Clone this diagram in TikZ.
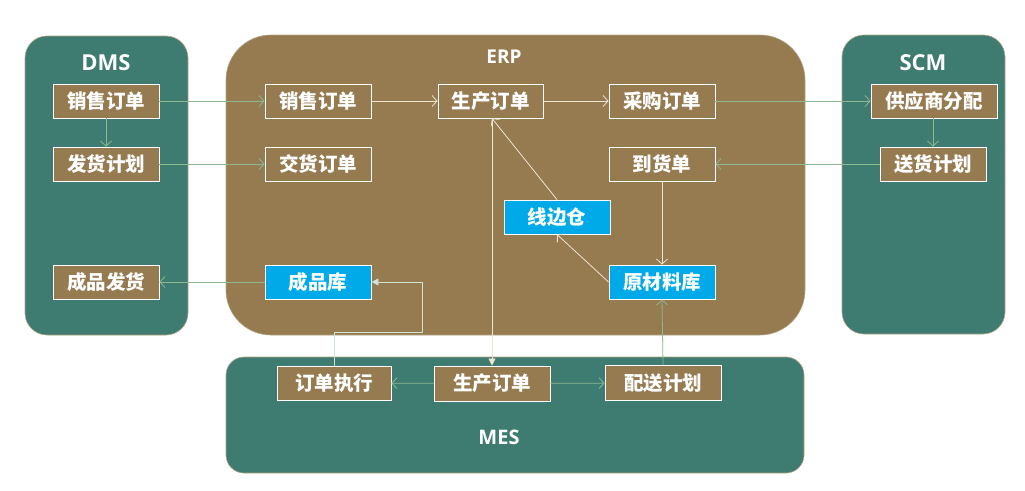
\documentclass[tikz,border=0pt]{standalone}
\usepackage{fontspec}
\usetikzlibrary{arrows.meta,calc}
\newfontfamily\cjk{Noto Sans CJK SC Black}
\newfontfamily\ttlfont{Open Sans}
\definecolor{teal0}{HTML}{3E7B70}
\definecolor{brown0}{HTML}{967A50}
\definecolor{blue0}{HTML}{00AAE8}
\definecolor{gline}{HTML}{8DB892}
\definecolor{cline}{HTML}{EDE4D2}
\definecolor{eline}{HTML}{D2E2D4}
\definecolor{frame0}{HTML}{B3A583}
\begin{document}
\begin{tikzpicture}[x=1pt,y=-1pt,
  container/.style={draw=frame0,line width=0.6pt},
  box/.style={draw=white,line width=0.9pt,fill=brown0,text=white,
    font=\cjk\fontsize{19.5}{21}\selectfont,minimum width=106pt,minimum height=34pt,inner sep=0pt},
  bluebox/.style={box,fill=blue0},
  title/.style={text=white,font=\ttlfont\bfseries\fontsize{22}{24}\selectfont,inner sep=0pt},
  barb/.style={-{Straight Barb[length=5pt,width=11pt,line width=0.8pt]}},
  garrow/.style={draw=gline,line width=0.8pt,barb},
  carrow/.style={draw=cline,line width=0.8pt,barb},
  tarrow/.style={draw=#1,line width=0.8pt,-{Triangle[length=7pt,width=7pt]}},
]
\useasboundingbox (0,0) rectangle (1025,490);
\fill[white] (0,0) rectangle (1025,490);

% containers
\draw[container,fill=teal0,rounded corners=22pt] (25,36) rectangle (188,335);
\draw[container,fill=brown0,rounded corners=45pt] (226,35) rectangle (805,335);
\draw[container,fill=teal0,rounded corners=22pt] (842,35) rectangle (1005,334);
\draw[container,fill=teal0,rounded corners=18pt] (226,357) rectangle (804,473);

% titles
\node[title] (tdms) at (106,63) {DMS};
\node[title,font=\ttlfont\bfseries\fontsize{19}{21}\selectfont] (terp) at (504,57) {ERP};
\node[title] (tscm) at (923,63) {SCM};
\node[title,font=\ttlfont\bfseries\fontsize{20}{22}\selectfont] (tmes) at (499,437) {MES};

% DMS
\node[box] (dsales) at (106,101) {销售订单};
\node[box] (dplan) at (106,164) {发货计划};
\node[box] (dship) at (106,282) {成品发货};

% ERP
\node[box] (esales) at (318,101) {销售订单};
\node[box,minimum width=105pt] (eprod) at (490.5,101) {生产订单};
\node[box] (epurch) at (662,101) {采购订单};
\node[box] (edeliv) at (318,164) {交货订单};
\node[box] (earrive) at (662,164) {到货单};
\node[bluebox] (exbc) at (557,217) {线边仓};
\node[bluebox] (ecpk) at (318,282) {成品库};
\node[bluebox] (eycl) at (662,282) {原材料库};

% SCM
\node[box,minimum width=126pt] (ssupp) at (934,101) {供应商分配};
\node[box] (splan) at (933,164) {送货计划};

% MES
\node[box,minimum width=114pt] (mexec) at (334,383) {订单执行};
\node[box,minimum width=116pt,minimum height=35pt] (mprod) at (492,383.5) {生产订单};
\node[box,minimum width=116pt,minimum height=35pt] (mdist) at (663,383) {配送计划};

% connectors
\draw[garrow] (dsales) -- (esales);
\draw[garrow] (dsales) -- (dplan);
\draw[garrow] (dplan) -- (edeliv);
\draw[garrow] (ecpk) -- (dship);
\draw[carrow] (esales) -- (eprod);
\draw[carrow] (eprod) -- (epurch);
\draw[garrow] (epurch) -- (ssupp);
\draw[garrow] (ssupp.south -| splan.north) -- (splan);
\draw[garrow] (splan) -- (earrive);
\draw[carrow] (earrive) -- (eycl);
\draw[carrow] (eycl.west) -- (exbc.south);
\draw[carrow] (exbc.north) -- (eprod.south -| mprod.north);
\draw[tarrow=cline] (eprod.south -| mprod.north) -- (mprod.north);
\draw[garrow] (mprod) -- (mexec);
\draw[garrow] (mprod) -- (mdist);
\draw[garrow] (mdist.north) -- (eycl.south);
\coordinate (bend) at (422,332);
\draw[tarrow=eline] (mexec.north) |- (bend) |- (ecpk.east);
\end{tikzpicture}
\end{document}
